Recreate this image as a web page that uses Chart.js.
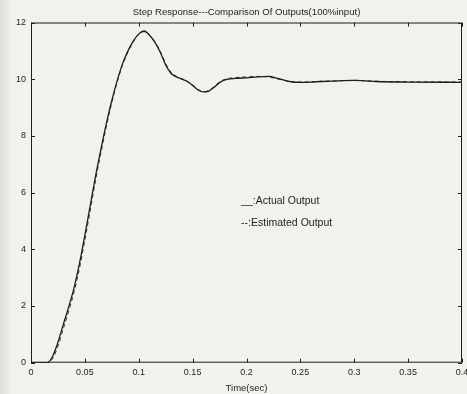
<!DOCTYPE html>
<html>
<head>
<meta charset="utf-8">
<script src="https://cdn.jsdelivr.net/npm/chart.js@4/dist/chart.umd.min.js"></script>
<style>
  html, body { margin: 0; padding: 0; background: #f2f1eb; }
  #wrap { position: relative; width: 467px; height: 394px; }
</style>
</head>
<body>
<div id="wrap"><canvas id="stepChart" width="467" height="394"></canvas></div>
<script>
var timeSec = [0, 0.01, 0.015, 0.02, 0.025, 0.03, 0.035, 0.04, 0.045, 0.05, 0.055, 0.06, 0.065, 0.07, 0.075,
  0.08, 0.085, 0.09, 0.095, 0.1, 0.105, 0.11, 0.115, 0.12, 0.125, 0.13, 0.135, 0.14, 0.145, 0.15,
  0.155, 0.16, 0.165, 0.17, 0.175, 0.18, 0.19, 0.2, 0.21, 0.22, 0.23, 0.24, 0.25, 0.26, 0.27,
  0.28, 0.29, 0.3, 0.31, 0.32, 0.35, 0.4];
var actualOutput = [0, 0, 0, 0.22, 0.72, 1.35, 1.97, 2.65, 3.5, 4.5, 5.55, 6.6, 7.55, 8.45, 9.25,
  9.95, 10.55, 11.0, 11.35, 11.6, 11.7, 11.55, 11.3, 10.95, 10.5, 10.2, 10.08, 10.0, 9.92, 9.78,
  9.62, 9.55, 9.58, 9.72, 9.88, 9.98, 10.03, 10.05, 10.08, 10.1, 10.02, 9.92, 9.89, 9.9, 9.92,
  9.93, 9.95, 9.96, 9.94, 9.92, 9.9, 9.89];
var estimatedOutput = [0, 0, 0, 0.14, 0.58, 1.2, 1.82, 2.5, 3.33, 4.32, 5.38, 6.45, 7.42, 8.35, 9.18,
  9.9, 10.5, 10.96, 11.32, 11.58, 11.68, 11.55, 11.32, 10.98, 10.55, 10.25, 10.1, 10.02, 9.93, 9.8,
  9.65, 9.56, 9.6, 9.74, 9.9, 10.0, 10.06, 10.08, 10.1, 10.08, 10.0, 9.92, 9.9, 9.91, 9.93,
  9.94, 9.95, 9.96, 9.95, 9.93, 9.91, 9.9];
var xTicks = [0, 0.05, 0.1, 0.15, 0.2, 0.25, 0.3, 0.35, 0.4];
var yTicks = [0, 2, 4, 6, 8, 10, 12];
var noteLines = ['__:Actual Output', '--:Estimated Output'];
var notePos = [{ x: 0.195, y: 5.7 }, { x: 0.195, y: 4.92 }];

function toPoints(values) {
  return timeSec.map(function(t, i) { return { x: t, y: values[i] }; });
}

var fontFamily = '"Liberation Sans", Arial, Helvetica, sans-serif';
var inkColor = '#1e1e1e';
var paperColor = '#f2f1eb';

var matlabFrame = {
  id: 'matlabFrame',
  beforeDraw: function(chart) {
    var ctx = chart.ctx;
    ctx.save();
    ctx.fillStyle = paperColor;
    ctx.fillRect(0, 0, chart.width, chart.height);
    // scanner shadow along the left edge
    var shade = ctx.createLinearGradient(0, 0, 12, 0);
    shade.addColorStop(0, '#dedcd6');
    shade.addColorStop(1, paperColor);
    ctx.fillStyle = shade;
    ctx.fillRect(0, 0, 12, chart.height);
    ctx.restore();
  },
  afterDraw: function(chart) {
    var ctx = chart.ctx;
    var area = chart.chartArea;
    var xs = chart.scales.x;
    var ys = chart.scales.y;
    var tickLen = 4;
    ctx.save();
    ctx.strokeStyle = inkColor;
    ctx.lineWidth = 1;
    ctx.strokeRect(area.left + 0.5, area.top + 0.5, area.right - area.left - 1, area.bottom - area.top - 1);
    ctx.beginPath();
    xTicks.forEach(function(v) {
      var px = Math.round(xs.getPixelForValue(v)) + 0.5;
      ctx.moveTo(px, area.bottom);
      ctx.lineTo(px, area.bottom - tickLen);
      ctx.moveTo(px, area.top);
      ctx.lineTo(px, area.top + tickLen);
    });
    yTicks.forEach(function(v) {
      var py = Math.round(ys.getPixelForValue(v)) + 0.5;
      ctx.moveTo(area.left, py);
      ctx.lineTo(area.left + tickLen, py);
      ctx.moveTo(area.right, py);
      ctx.lineTo(area.right - tickLen, py);
    });
    ctx.stroke();
    ctx.fillStyle = inkColor;
    ctx.font = '10.5px ' + fontFamily;
    ctx.textAlign = 'left';
    ctx.textBaseline = 'middle';
    noteLines.forEach(function(text, i) {
      ctx.fillText(text, xs.getPixelForValue(notePos[i].x), ys.getPixelForValue(notePos[i].y));
    });
    ctx.restore();
  }
};

var canvas = document.getElementById('stepChart');
new Chart(canvas.getContext('2d'), {
  type: 'line',
  data: {
    datasets: [{
      label: 'Actual Output',
      data: toPoints(actualOutput),
      borderColor: inkColor,
      borderWidth: 1.3,
      pointRadius: 0,
      cubicInterpolationMode: 'monotone',
      fill: false
    }, {
      label: 'Estimated Output',
      data: toPoints(estimatedOutput),
      borderColor: '#333333',
      borderWidth: 1,
      borderDash: [4, 3],
      pointRadius: 0,
      cubicInterpolationMode: 'monotone',
      fill: false
    }]
  },
  options: {
    responsive: false,
    animation: false,
    events: [],
    layout: {
      padding: { left: 0, right: 5, top: 0, bottom: 0 }
    },
    plugins: {
      legend: { display: false },
      tooltip: { enabled: false },
      title: {
        display: true,
        fullSize: false,
        text: 'Step Response---Comparison Of Outputs(100%input)',
        color: inkColor,
        font: { family: fontFamily, size: 9.6, weight: 'normal' },
        padding: { top: 7, bottom: 4 }
      }
    },
    scales: {
      x: {
        type: 'linear',
        min: 0,
        max: 0.4,
        grid: { display: false, drawTicks: false },
        border: { display: false },
        afterBuildTicks: function(scale) {
          scale.ticks = xTicks.map(function(v) { return { value: v }; });
        },
        afterFit: function(scale) {
          scale.paddingRight = 0;
          scale.paddingLeft = 0;
        },
        ticks: {
          color: inkColor,
          padding: 5,
          maxRotation: 0,
          autoSkip: false,
          font: { family: fontFamily, size: 9, lineHeight: 1.1 },
          callback: function(value) { return String(value); }
        },
        title: {
          display: true,
          text: 'Time(sec)',
          color: inkColor,
          padding: { top: 0, bottom: 0 },
          font: { family: fontFamily, size: 9.5 }
        }
      },
      y: {
        min: 0,
        max: 12,
        grid: { display: false, drawTicks: false },
        border: { display: false },
        afterBuildTicks: function(scale) {
          scale.ticks = yTicks.map(function(v) { return { value: v }; });
        },
        afterFit: function(scale) {
          scale.width = 31;
        },
        ticks: {
          color: inkColor,
          padding: 5,
          font: { family: fontFamily, size: 9 },
          callback: function(value) { return String(value); }
        }
      }
    }
  },
  plugins: [matlabFrame]
});
</script>
</body>
</html>
